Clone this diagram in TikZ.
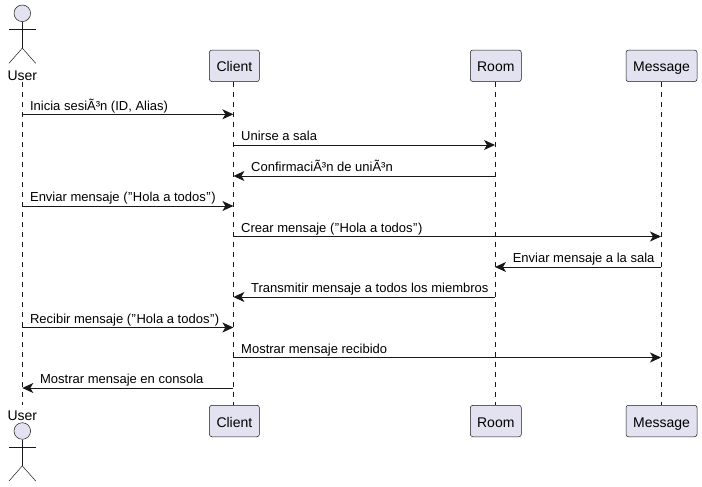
\documentclass[tikz,border=0pt]{standalone}
\usepackage{fontspec}
\setmainfont{Liberation Sans}
\usetikzlibrary{arrows.meta}
\definecolor{partfill}{HTML}{E2E2F0}
\definecolor{partline}{HTML}{181818}
\newcommand{\qq}{\kern0.5pt\symbol{34}\kern0.5pt}
\tikzset{
    part/.style={draw=partline, line width=0.5pt, fill=partfill, rounded corners=2.5pt, minimum height=31.5pt, inner sep=0pt, text height=14pt, text depth=2pt, font=\fontsize{14}{16}\selectfont},
    life/.style={draw=partline, line width=0.5pt, dash pattern=on 5pt off 5pt},
    msg/.style={draw=partline, line width=1pt, -{Stealth[length=11pt, width=10pt, inset=3pt]}},
    msgtext/.style={anchor=base west, inner sep=0pt, font=\fontsize{13}{15}\selectfont},
    stick/.style={draw=partline, line width=0.5pt},
    actorname/.style={inner sep=0pt, font=\fontsize{14}{16}\selectfont}
}
\begin{document}
\begin{tikzpicture}[x=1pt, y=-1pt]
    \useasboundingbox (0,0) rectangle (702,487);

    % participants, top and bottom
    \node[part, minimum width=50pt] (clientT) at (234.4,65.8) {Client};
    \node[part, minimum width=51pt] (roomT) at (495.8,65.8) {Room};
    \node[part, minimum width=71pt] (messageT) at (661.5,65.8) {Message};
    \node[part, minimum width=50pt] (clientB) at (234.4,421) {Client};
    \node[part, minimum width=51pt] (roomB) at (495.8,421) {Room};
    \node[part, minimum width=71pt] (messageB) at (661.5,421) {Message};
    \node[actorname] (userT) at (22.3,75.5) {User};
    \node[actorname] (userB) at (22.3,415.5) {User};

    % lifelines sit a little left of the box centres
    \coordinate (clientL) at ([xshift=-1pt]clientT.south);
    \coordinate (roomL) at ([xshift=-0.8pt]roomT.south);
    \coordinate (messageL) at ([xshift=-0.5pt]messageT.south);
    \coordinate (userL) at (22.3,82);
    \draw[life] (clientL) -- ([xshift=-1pt]clientB.north);
    \draw[life] (roomL) -- ([xshift=-0.8pt]roomB.north);
    \draw[life] (messageL) -- ([xshift=-0.5pt]messageB.north);
    \coordinate (userEnd) at (22.3,405);
    \draw[life] (userL) -- (userEnd);

    % the two stick figures
    \foreach \name/\y in {headT/13.3, headB/431} {
        \node[stick, circle, fill=partfill, minimum size=16.6pt, inner sep=0pt] (\name) at (22.3,\y) {};
        \draw[stick] (\name.south) -- ++(0,26.3) coordinate (\name hip);
        \draw[stick] (9,\y+16) -- (35.7,\y+16);
        \draw[stick] (9,\y+50) -- (\name hip) -- (35.7,\y+50);
    }

    % messages
    \foreach \n/\y/\from/\to/\off/\txt in {
        1/114.3/userL/clientL/7/{Inicia sesiÃ³n (ID, Alias)},
        2/145/clientL/roomL/7/{Unirse a sala},
        3/176/roomL/clientL/17/{ConfirmaciÃ³n de uniÃ³n},
        4/206/userL/clientL/7/{Enviar mensaje (\qq Hola a todos\qq)},
        5/236.5/clientL/messageL/7/{Crear mensaje (\qq Hola a todos\qq)},
        6/267/messageL/roomL/17/{Enviar mensaje a la sala},
        7/297/roomL/clientL/17/{Transmitir mensaje a todos los miembros},
        8/327.5/userL/clientL/7/{Recibir mensaje (\qq Hola a todos\qq)},
        9/357.5/clientL/messageL/7/{Mostrar mensaje recibido},
        10/388/clientL/userL/17/{Mostrar mensaje en consola}} {
        \coordinate (a\n) at (\from |- 0,\y);
        \coordinate (b\n) at (\to |- 0,\y);
        \draw[msg] (a\n) -- (b\n);
        \ifnum\off=7
            \node[msgtext] (t\n) at ([shift={(\off+0.6,-4.2)}]a\n) {\txt};
        \else
            \node[msgtext] (t\n) at ([shift={(\off+0.6,-4.2)}]b\n) {\txt};
        \fi
    }
\end{tikzpicture}
\end{document}
